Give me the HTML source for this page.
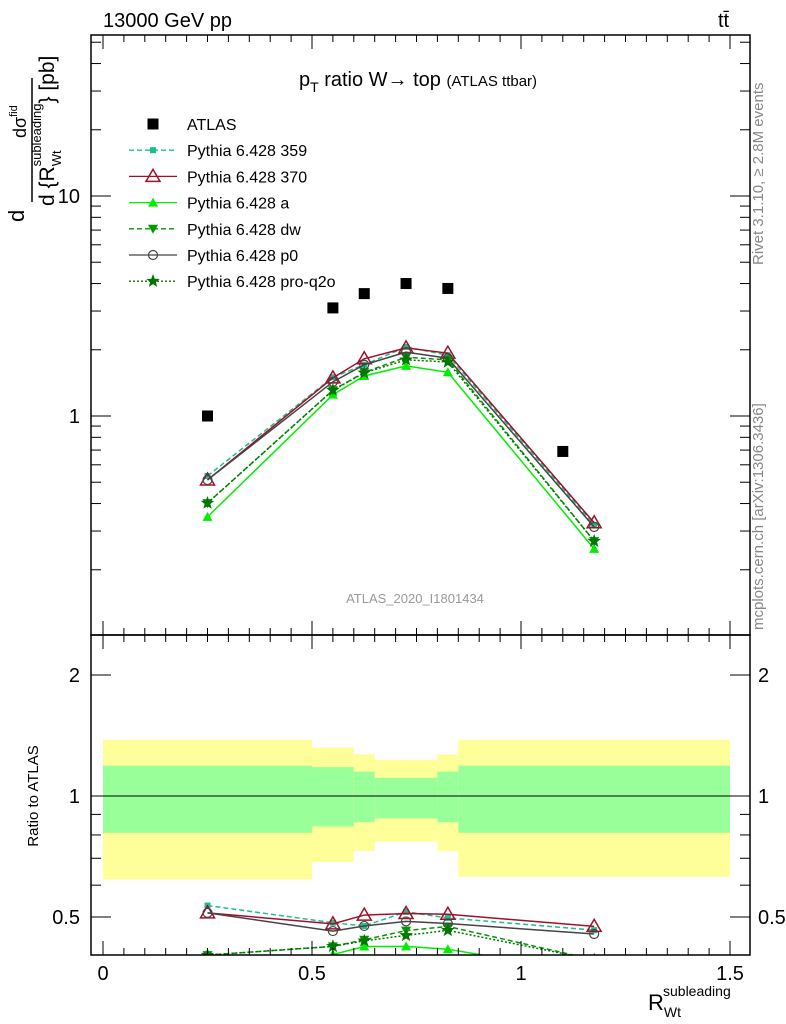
<!DOCTYPE html>
<html><head><meta charset="utf-8"><style>
body{margin:0;background:#fff;}
svg{display:block;font-family:"Liberation Sans",sans-serif;}
</style></head><body>
<svg id="chart" width="786" height="1024" viewBox="0 0 786 1024" xmlns="http://www.w3.org/2000/svg">
<defs>
<clipPath id="clipMain"><rect x="91" y="35" width="659" height="600"/></clipPath>
<clipPath id="clipRatio"><rect x="91" y="635" width="659" height="320"/></clipPath>
</defs>
<g id="bands" clip-path="url(#clipRatio)"></g>
<g id="mainMarks" clip-path="url(#clipMain)"></g>
<g id="ratioMarks" clip-path="url(#clipRatio)"></g>
<g id="axes"></g>
<rect x="91" y="35" width="659" height="600" fill="none" stroke="#000" stroke-width="1.5"/>
<rect x="91" y="635" width="659" height="320" fill="none" stroke="#000" stroke-width="1.5"/>
<text x="103" y="27" font-size="20">13000 GeV pp</text>
<text x="718" y="27" font-size="20">tt̄</text>
<text x="418" y="86" font-size="20" text-anchor="middle">p<tspan font-size="14" dy="6">T</tspan><tspan dy="-6"> ratio W→ top </tspan><tspan font-size="15">(ATLAS ttbar)</tspan></text>
<text x="415" y="603" font-size="13" fill="#999" text-anchor="middle">ATLAS_2020_I1801434</text>
<text transform="translate(763,265) rotate(-90)" font-size="15" fill="#888">Rivet 3.1.10, ≥ 2.8M events</text>
<text transform="translate(763,630) rotate(-90)" font-size="15" fill="#888">mcplots.cern.ch [arXiv:1306.3436]</text>
<text transform="translate(38,796) rotate(-90)" font-size="15" text-anchor="middle">Ratio to ATLAS</text>
<g transform="translate(0,250) rotate(-90)">
<text x="28" y="24" font-size="22">d</text>
<line x1="48" y1="32" x2="172" y2="32" stroke="#000" stroke-width="1.5"/>
<text x="112" y="26" font-size="18">dσ<tspan font-size="11" dy="-9">fid</tspan></text>
<text x="44" y="54" font-size="21">d {R<tspan font-size="13" dy="7">Wt</tspan><tspan font-size="13" dx="-16" dy="-20">subleading</tspan><tspan dy="13">} [pb]</tspan></text>
</g>
<text x="648" y="1010" font-size="22">R<tspan font-size="14" dy="7">Wt</tspan><tspan font-size="14" dx="-18" dy="-21">subleading</tspan></text>
<g id="legend"></g>
</svg>
<script>
var categories=[0.25,0.55,0.625,0.725,0.825,1.175];
var atlasX=[0.25,0.55,0.625,0.725,0.825,1.1];
var atlasVals=[1.0,3.1,3.6,4.0,3.8,0.69];
var s359=[0.534,1.50,1.71,2.06,1.89,0.320];
var s370=[0.512,1.49,1.82,2.04,1.93,0.327];
var sA=[0.348,1.25,1.52,1.69,1.58,0.249];
var sDW=[0.402,1.31,1.58,1.85,1.80,0.270];
var sP0=[0.512,1.43,1.71,1.95,1.83,0.313];
var sPro=[0.402,1.31,1.57,1.80,1.76,0.270];
var binEdges=[0,0.5,0.6,0.65,0.8,0.85,1.5];
var yellowHi=[1.38,1.32,1.27,1.23,1.27,1.38];
var yellowLo=[0.62,0.685,0.73,0.77,0.73,0.63];
var greenHi=[1.19,1.18,1.15,1.11,1.15,1.19];
var greenLo=[0.81,0.84,0.86,0.88,0.86,0.81];
var xTicksMajor=[0,0.5,1,1.5];
var xTickLabels=["0","0.5","1","1.5"];
var yMainLabels=[1,10];
var yRatioLabels=[0.5,1,2];

var NS="http://www.w3.org/2000/svg";
function X(v){return 103+v*418;}
function Y(v){return 416-Math.log10(v)*220;}
function R(v){return 796-Math.log2(v)*121;}
function mk(tag,attrs,parent){var e=document.createElementNS(NS,tag);for(var k in attrs){e.setAttribute(k,attrs[k]);}parent.appendChild(e);return e;}

var bands=document.getElementById('bands');
for(var i=0;i<binEdges.length-1;i++){
 var x0=X(binEdges[i]),x1=X(binEdges[i+1]);
 var r1=mk('rect',{x:x0,y:R(yellowHi[i]),width:x1-x0,height:R(yellowLo[i])-R(yellowHi[i]),fill:'#ffff99'},bands);
 
 
 var r2=mk('rect',{x:x0,y:R(greenHi[i]),width:x1-x0,height:R(greenLo[i])-R(greenHi[i]),fill:'#99ff99'},bands);
 
 
}
var ul=mk('line',{x1:91,x2:750,y1:R(1),y2:R(1),stroke:'#000','stroke-width':1},bands);



function marker(type,x,y,color,g){
 var e;
 if(type==='sq'){e=mk('rect',{x:x-3,y:y-3,width:6,height:6,fill:color},g);}
 else if(type==='big'){e=mk('rect',{x:x-5.5,y:y-5.5,width:11,height:11,fill:'#000'},g);}
 else if(type==='otri'){e=mk('polygon',{points:x+','+(y-7)+' '+(x-7)+','+(y+5)+' '+(x+7)+','+(y+5),fill:'none',stroke:color,'stroke-width':1.5},g);}
 else if(type==='tri'){e=mk('polygon',{points:x+','+(y-5)+' '+(x-5)+','+(y+4)+' '+(x+5)+','+(y+4),fill:color},g);}
 else if(type==='dtri'){e=mk('polygon',{points:x+','+(y+5)+' '+(x-5)+','+(y-4)+' '+(x+5)+','+(y-4),fill:color},g);}
 else if(type==='circ'){e=mk('circle',{cx:x,cy:y,r:4.5,fill:'none',stroke:color,'stroke-width':1.2},g);}
 else {var p=[];for(var k=0;k<10;k++){var a=-Math.PI/2+k*Math.PI/5,rr=(k%2)?2.5:6;p.push((x+rr*Math.cos(a)).toFixed(1)+','+(y+rr*Math.sin(a)).toFixed(1));}
  e=mk('polygon',{points:p.join(' '),fill:color,stroke:color,'stroke-width':0.8},g);}
 return e;
}
var series=[
 {name:'Pythia 6.428 359',vals:s359,color:'#19c08a',dash:'5,3',m:'sq',key:'pythia-359'},
 {name:'Pythia 6.428 370',vals:s370,color:'#a0102a',dash:'none',m:'otri',key:'pythia-370'},
 {name:'Pythia 6.428 a',vals:sA,color:'#00ee00',dash:'none',m:'tri',key:'pythia-a'},
 {name:'Pythia 6.428 dw',vals:sDW,color:'#009900',dash:'5,3',m:'dtri',key:'pythia-dw'},
 {name:'Pythia 6.428 p0',vals:sP0,color:'#444444',dash:'none',m:'circ',key:'pythia-p0'},
 {name:'Pythia 6.428 pro-q2o',vals:sPro,color:'#007700',dash:'2,2',m:'star',key:'pythia-pro-q2o'}
];
var mm=document.getElementById('mainMarks'),rm=document.getElementById('ratioMarks');
series.forEach(function(s){
 var g=mk('g',{},mm);
 
 
 var pts=s.vals.map(function(v,i){return X(categories[i])+','+Y(v);}).join(' ');
 mk('polyline',{points:pts,fill:'none',stroke:s.color,'stroke-width':1.5,'stroke-dasharray':s.dash},g);
 s.vals.forEach(function(v,i){var e=marker(s.m,X(categories[i]),Y(v),s.color,g);
  
  });
 var g2=mk('g',{},rm);
 
 
 var pts2=s.vals.map(function(v,i){return X(categories[i])+','+R(v/atlasVals[i]);}).join(' ');
 mk('polyline',{points:pts2,fill:'none',stroke:s.color,'stroke-width':1.5,'stroke-dasharray':s.dash},g2);
 s.vals.forEach(function(v,i){var e=marker(s.m,X(categories[i]),R(v/atlasVals[i]),s.color,g2);
  
  });
});
var ga=mk('g',{},mm);


atlasVals.forEach(function(v,i){var e=marker('big',X(atlasX[i]),Y(v),'#000',ga);
 
 });

var ax=document.getElementById('axes');
function tk(x1,y1,x2,y2){mk('line',{x1:x1,y1:y1,x2:x2,y2:y2,stroke:'#000','stroke-width':1},ax);}
for(var n=0;n<=30;n++){
 var tv=n*0.05,xx=X(tv),maj=(n%10===0);
 var L=maj?14:7;
 tk(xx,635,xx,635-L);tk(xx,35,xx,35+L);tk(xx,955,xx,955-L);tk(xx,635,xx,635+L);
}
xTicksMajor.forEach(function(v,i){var e=mk('text',{x:X(v),y:980,'font-size':20,'text-anchor':'middle'},ax);e.textContent=xTickLabels[i];
 
 });
[0.1,1,10].forEach(function(d){for(var m=1;m<10;m++){var v=d*m,y=Y(v);if(y<35||y>635)continue;var L=(m===1)?20:10;tk(91,y,91+L,y);tk(750,y,750-L,y);}});
yMainLabels.forEach(function(v){var e=mk('text',{x:80,y:Y(v)+7,'font-size':20,'text-anchor':'end'},ax);e.textContent=String(v);
 
 });
[0.4,0.5,0.6,0.7,0.8,0.9,1,2].forEach(function(v){var y=R(v);if(y<635||y>955)return;var L=(v===1||v===2||v===0.5)?20:10;tk(91,y,91+L,y);tk(750,y,750-L,y);});
yRatioLabels.forEach(function(v){var lab=String(v);var e=mk('text',{x:80,y:R(v)+7,'font-size':20,'text-anchor':'end'},ax);e.textContent=lab;
 
 
 var e2=mk('text',{x:758,y:R(v)+7,'font-size':20},ax);e2.textContent=lab;
 
 });

var lg=document.getElementById('legend');
var rows=[{name:'ATLAS',m:'big',color:'#000',dash:null,key:'atlas'}].concat(series);
rows.forEach(function(s,i){
 var y=124+i*26.2;
 var g=mk('g',{},lg);
 
 
 if(s.dash!==null){mk('line',{x1:129,x2:177,y1:y,y2:y,stroke:s.color,'stroke-width':1.3,'stroke-dasharray':s.dash},g);}
 marker(s.m,153,y,s.color,g);
 var tx=mk('text',{x:187,y:y+6,'font-size':16},g);tx.textContent=s.name;
});
</script>
</body></html>
